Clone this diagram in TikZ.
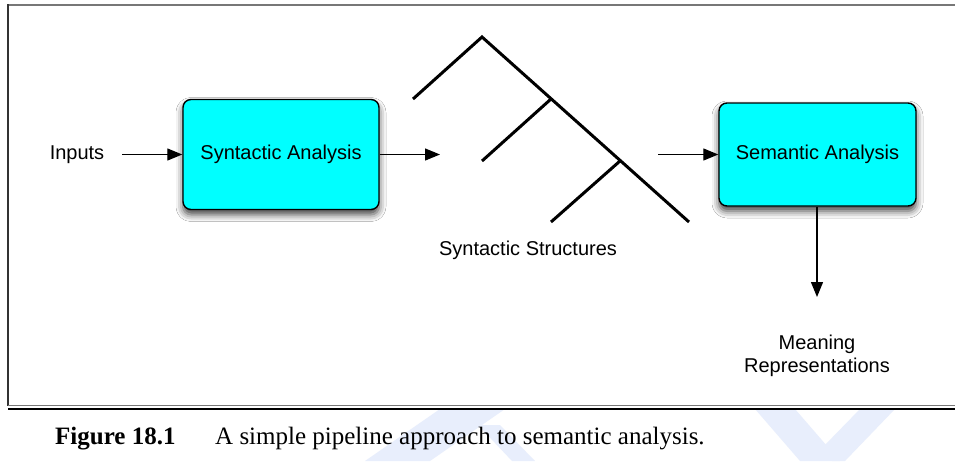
\documentclass[tikz,border=0pt]{standalone}
\usepackage{fontspec}
\setmainfont{Liberation Sans}
\newfontfamily\capfont{Liberation Serif}
\usetikzlibrary{arrows.meta,shadows.blur}
\definecolor{boxcyan}{HTML}{00FFFF}
\definecolor{wmark}{HTML}{E8EEFC}
\definecolor{framegray}{HTML}{777777}
\tikzset{
  procbox/.style={draw=black, line width=1.4pt, fill=boxcyan, rounded corners=8pt,
    inner sep=0pt, font=\fontsize{20}{24}\selectfont,
    blur shadow={shadow xshift=0pt, shadow yshift=-5pt, shadow blur radius=7pt, shadow opacity=75}},
  lbl/.style={inner sep=0pt, font=\fontsize{20}{24}\selectfont, align=center},
  arr/.style={line width=1.3pt, -{Triangle[length=15pt,width=12pt]}},
  treeline/.style={line width=3pt},
  caption/.style={inner sep=0pt, anchor=base west, font=\capfont\fontsize{25}{30}\selectfont}
}
\begin{document}
\begin{tikzpicture}[x=1pt,y=-1pt]
\useasboundingbox (0,0) rectangle (955,461);
\fill[white] (0,0) rectangle (955,461);
% watermark
\fill[wmark] (440,409) -- (505,409) -- (430,461) -- (365,461) -- cycle;
\fill[wmark] (478,425) -- (500,425) -- (535,461) -- (512,461) -- cycle;
\fill[wmark] (755,409) -- (795,409) -- (840,461) -- (800,461) -- cycle;
\fill[wmark] (822,448) -- (860,409) -- (895,409) -- (845,461) -- (832,461) -- cycle;
% frame
\draw[framegray, line width=2pt] (8,4.7) -- (955,4.7);
\draw[black!80, line width=1.5pt] (8,4) -- (8,406);
\draw[framegray, line width=1.3pt] (8,405.5) -- (955,405.5);
\draw[black, line width=1.5pt] (8,409) -- (955,409);
% nodes
\node[lbl] (inputs) at (77,155) {Inputs};
\node[procbox, minimum width=196pt, minimum height=110pt] (syn) at (281,154.5) {Syntactic Analysis};
\node[procbox, minimum width=197pt, minimum height=103pt] (sem) at (817.5,154.5) {Semantic Analysis};
\node[lbl] (structs) at (528,250) {Syntactic Structures};
\node[lbl, font=\fontsize{20}{23}\selectfont] (meaning) at (817,355.5) {Meaning\\Representations};
% tree
\coordinate (apex) at (482,37);
\coordinate (lleaf) at (413,99);
\coordinate (j1) at (551,99);
\coordinate (j1leaf) at (482,161);
\coordinate (j2) at (620,161);
\coordinate (j2leaf) at (551,222);
\coordinate (rleaf) at (689,222);
\draw[treeline] (lleaf) -- (apex) -- (rleaf);
\draw[treeline] (j1) -- (j1leaf);
\draw[treeline] (j2) -- (j2leaf);
% connectors
\coordinate (treein) at (440,154.5);
\coordinate (treeout) at (658,154.5);
\coordinate (mrtip) at (817,297);
\draw[arr] ([xshift=18pt]inputs.east |- syn.west) -- (syn.west);
\draw[arr] (syn.east) -- (treein);
\draw[arr] (treeout) -- (sem.west);
\draw[arr] (sem.south -| mrtip) -- (mrtip);
% caption
\node[caption] (figlabel) at (55,444) {\bfseries Figure 18.1};
\node[caption] (captext) at (215,444) {A simple pipeline approach to semantic analysis.};
\end{tikzpicture}
\end{document}
